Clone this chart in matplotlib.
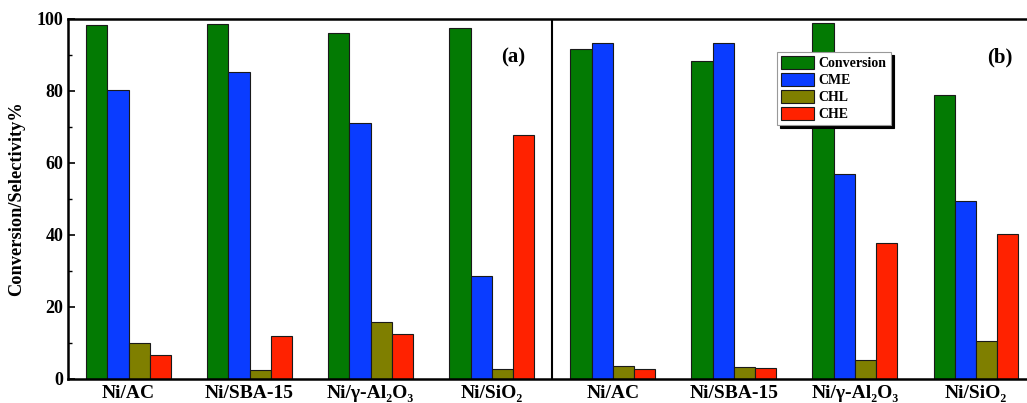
import matplotlib
import numpy as np

matplotlib.use("Agg")
from matplotlib import pyplot as plt
from matplotlib.ticker import MultipleLocator

plt.rcParams["font.family"] = ["Liberation Serif", "DejaVu Serif"]
plt.rcParams["font.weight"] = "bold"

catalysts = ["Ni/AC", "Ni/SBA-15", "Ni/γ-Al₂O₃", "Ni/SiO₂"]
series = ["Conversion", "CME", "CHL", "CHE"]

# panel (a)
conv_a = [98.3, 98.6, 96.2, 97.4]
cme_a = [80.2, 85.3, 71.2, 28.6]
chl_a = [9.9, 2.5, 15.8, 2.8]
che_a = [6.6, 11.9, 12.4, 67.8]

# panel (b)
conv_b = [91.6, 88.4, 99.0, 78.9]
cme_b = [93.4, 93.4, 56.9, 49.4]
chl_b = [3.6, 3.4, 5.3, 10.5]
che_b = [2.9, 3.0, 37.9, 40.2]

colors = ["#037a03", "#0a3cff", "#7f7f00", "#ff2200"]

values = [conv_a + conv_b, cme_a + cme_b, chl_a + chl_b, che_a + che_b]
labels = catalysts + catalysts
x = np.arange(len(labels))

fig = plt.figure(figsize=(10.27, 4.03), dpi=100)
ax = fig.add_axes([0.0662, 0.0596, 0.943, 0.8933])

width = 0.175
for i, (name, vals, color) in enumerate(zip(series, values, colors)):
    ax.bar(x + (i - 1.5) * width, vals, width, color=color, edgecolor="#1a1a1a",
           linewidth=0.8, label=name, zorder=2)

ax.axvline(3.5, color="black", linewidth=1.5, zorder=3)
ax.set_xlim(-0.5, 7.5)
ax.set_ylim(0, 100)
ax.set_xticks(x)
ax.set_xticklabels(labels, fontsize=14, fontweight="bold")
ax.tick_params(axis="x", length=0, pad=4)
ax.yaxis.set_major_locator(MultipleLocator(20))
ax.yaxis.set_minor_locator(MultipleLocator(10))
ax.tick_params(axis="y", which="both", direction="in", labelsize=13)
ax.tick_params(axis="y", which="major", length=5, width=1.2)
ax.tick_params(axis="y", which="minor", length=3, width=1.0)
for lab in ax.get_yticklabels():
    lab.set_fontweight("bold")
ax.set_ylabel("Conversion/Selectivity%", fontsize=13.2, fontweight="bold", labelpad=8)
for side in ["left", "bottom", "top", "right"]:
    ax.spines[side].set_linewidth(1.8)

ax.text(3.18, 89.2, "(a)", fontsize=15, fontweight="bold", ha="center", va="center")
ax.text(7.2, 89.2, "(b)", fontsize=15, fontweight="bold", ha="center", va="center")

leg = ax.legend(loc="upper left", bbox_to_anchor=(0.732, 0.908), fancybox=False,
                shadow={"color": "black", "alpha": 1.0}, framealpha=1,
                edgecolor="#999999", prop={"weight": "bold", "size": 10},
                handlelength=2.4, handleheight=1.0, labelspacing=0.22,
                handletextpad=0.3, borderpad=0.3, borderaxespad=0)
leg.get_frame().set_linewidth(0.8)

fig.savefig("out.png", dpi=100)
